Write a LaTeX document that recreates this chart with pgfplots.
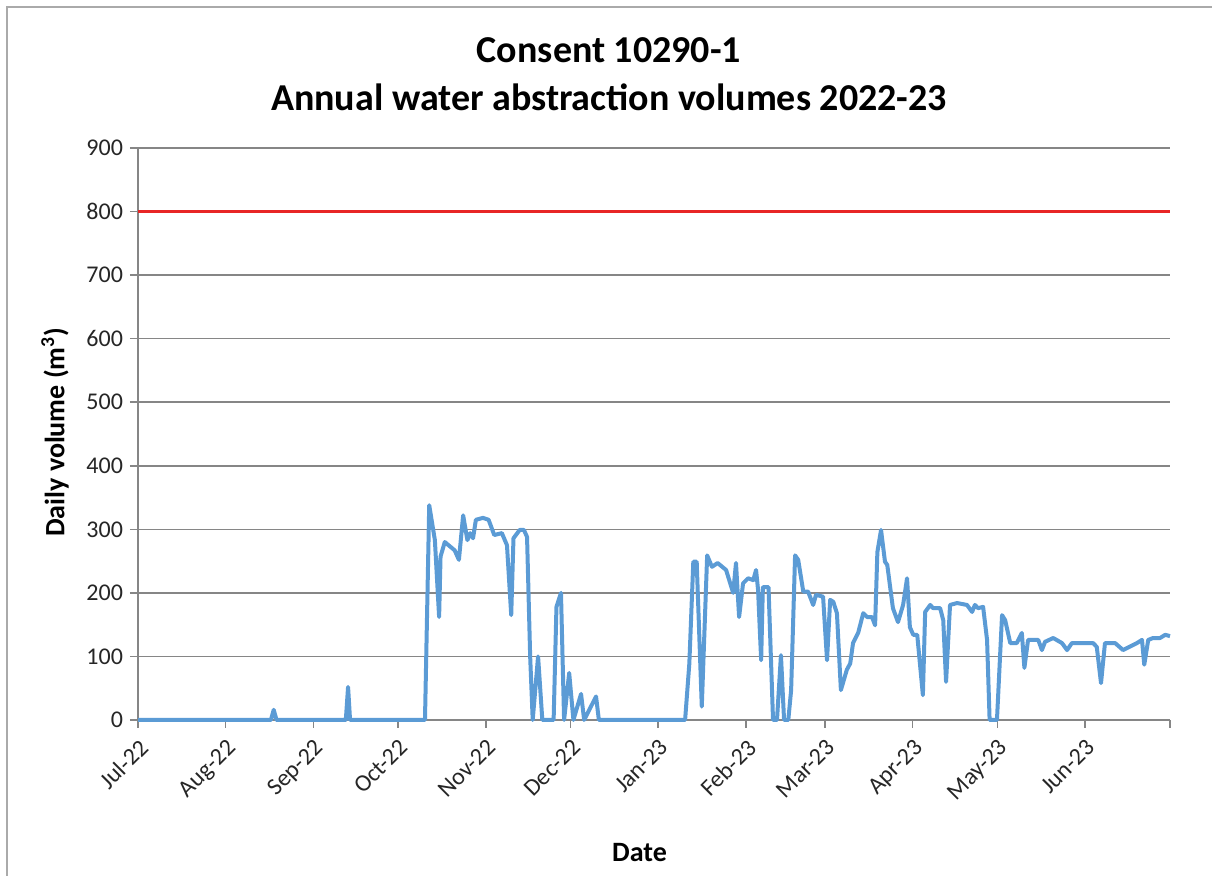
\documentclass[border=0pt]{standalone}
\usepackage{fontspec}
\setmainfont{Carlito}
\usepackage{pgfplots}
\pgfplotsset{compat=1.18}
\definecolor{lineblue}{RGB}{91,155,213}
\definecolor{limitred}{RGB}{232,38,38}
\definecolor{gridgrey}{RGB}{134,134,134}
\begin{document}
\begin{tikzpicture}[x=1pt,y=1pt]
\path[use as bounding box] (0,0) rectangle (606,438);
\draw[gridgrey!70, line width=0.8pt] (3.5,0) -- (3.5,434.5) -- (606,434.5);
\node[font=\fontsize{19}{22}\selectfont\bfseries] at (304.5,413) {Consent 10290-1};
\node[font=\fontsize{19}{22}\selectfont\bfseries] at (304.5,389.5) {Annual water abstraction volumes 2022-23};
\begin{axis}[
  at={(69pt,78pt)}, anchor=south west,
  scale only axis, width=516pt, height=286pt,
  xmin=0, xmax=365, ymin=0, ymax=900,
  xtick={0,31,62,92,123,153,184,215,243,274,304,335,365},
  xticklabels={Jul-22,Aug-22,Sep-22,Oct-22,Nov-22,Dec-22,Jan-23,Feb-23,Mar-23,Apr-23,May-23,Jun-23,{}},
  ytick={0,100,...,900},
  ymajorgrids, grid style={gridgrey, line width=0.75pt},
  axis x line*=bottom, axis y line*=left,
  axis line style={gridgrey, line width=0.75pt},
  tick style={gridgrey, line width=0.75pt},
  tick align=outside, major tick length=4pt,
  /pgf/number format/assume math mode=true,
  ticklabel style={font=\fontsize{12}{14}\selectfont, text=black!85},
  xticklabel style={rotate=45, anchor=north east},
  xlabel={Date}, ylabel={Daily volume (m\textsuperscript{3})},
  label style={font=\fontsize{14}{16}\selectfont\bfseries},
  xlabel style={at={(axis description cs:0.486,-0.231)}, anchor=center},
  ylabel style={at={(axis description cs:-0.0804,0.503)}, anchor=center},
  clip=false,
]
\addplot[limitred, line width=1.8pt] coordinates {(0,800) (365,800)};
\addplot[lineblue, line width=2pt, line join=round] table {
x y
0 0
47 0
48 16
49 0
73.5 0
74.3 52
75 0
101.5 0
103 338
105 283
106.5 162
107 257
108.5 280
112 267
113.5 252
115 322
116.5 283
117.5 294
118.5 286
119.5 315
122 318
124 315
126 291
128.7 294
130.5 275
132 165
132.8 286
135 299
136.5 299
137.6 288
138.7 100
139.6 0
141.5 100
143 0
147 0
148 178
149.6 200
150.7 0
152.5 74
154 0
156.7 41
157.8 0
162 37
163 0
193.5 0
195 89
196.4 249
197.6 249
199.4 21
201.3 259
203 241
205 247
208 236
210.5 200
211.5 247
212.6 162
214 215
215.8 223
217.6 220
218.6 236
219.3 205
220.4 94
221 209
223 209
224.6 0
226 0
227.4 102
228.5 0
230 0
231 47
232.4 259
233.5 252
235.3 202
237 202
238.8 181
239.8 197
242.3 194
243.7 94
244.8 189
245.9 186
247.2 168
248.6 47
250.7 79
251.9 89
252.9 121
254.7 137
256.5 168
257.9 162
259.6 162
260.7 149
261.5 264
262.8 299
264.2 249
265 244
267 176
268.8 154
270.6 181
272 223
273 146
274.2 134
275.6 134
277.6 39
278.4 170
280.2 181
281.2 176
283.7 176
284.8 157
285.8 60
287.2 181
289.7 184
293.2 181
295 170
296 181
297.1 176
298.9 178
300.3 126
301.2 0
303.8 0
305.6 165
306.7 157
308.5 121
310.8 121
312.6 137
313.5 82
314.8 126
318.4 126
319.7 110
320.8 123
323.7 129
326.8 121
328.6 110
330.3 121
337.8 121
339.1 115
340.6 58
342 121
345.6 121
348.4 110
353.3 121
355.1 126
355.9 87
357.3 126
359 129
361.5 129
363.3 134
365 132
};
\end{axis}
\end{tikzpicture}
\end{document}
